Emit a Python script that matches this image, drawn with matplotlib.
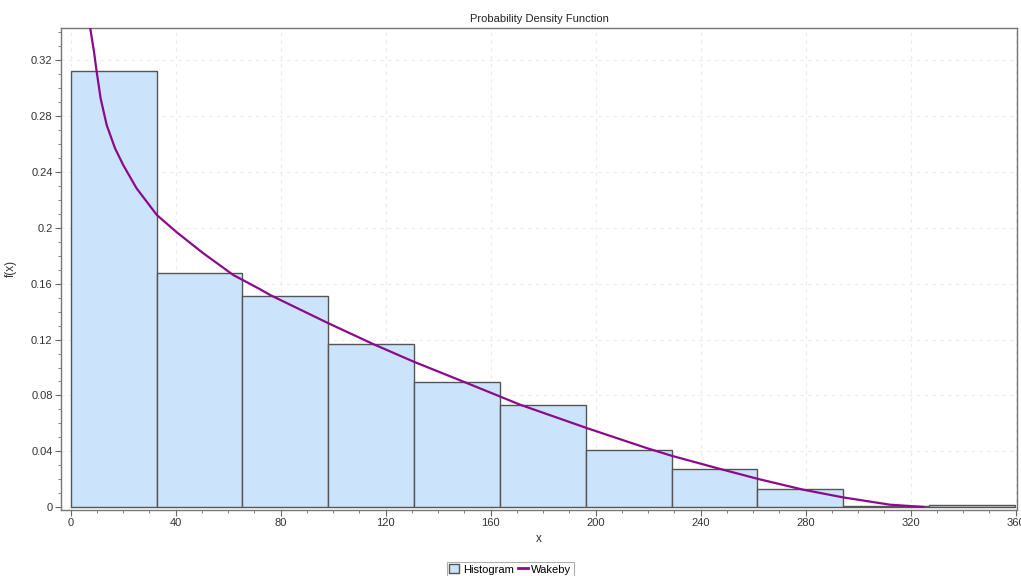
import numpy as np
import matplotlib
matplotlib.use('Agg')
import matplotlib.pyplot as plt
from matplotlib.patches import Patch
from matplotlib.lines import Line2D
from matplotlib.ticker import MultipleLocator, FuncFormatter

plt.rcParams['font.family'] = ['Liberation Sans', 'DejaVu Sans']

# Histogram bins (left edges) and heights
bin_width = 32.7
bin_lefts = [0.0, 32.7, 65.4, 98.1, 130.8, 163.5, 196.2, 228.9, 261.6, 294.3, 327.0]
bin_heights = [0.312, 0.1679, 0.1514, 0.1169, 0.0898, 0.0734, 0.0412, 0.0271, 0.0131, 0.0010, 0.0019]

# Wakeby pdf, points
curve_x = [7.35, 8.88, 9.9, 11.4, 13.7, 16.9, 20.0, 25.1, 32.8, 37.2,
           40.4, 50.5, 61.9, 72.1, 75.9, 98.1, 115.3, 130.5, 150.9, 163.5, 171.2,
           196.6, 219.4, 228.9, 246.1, 261.9, 279.1, 294.3, 312.1, 324.8]
curve_y = [0.3436, 0.3257, 0.3114, 0.2924, 0.2734, 0.2567, 0.2448, 0.2281, 0.2091,
           0.2019, 0.1967, 0.1817, 0.1662, 0.156, 0.1519, 0.1317, 0.1167, 0.1043,
           0.0889, 0.0793, 0.0734, 0.0567, 0.0424, 0.0369, 0.0281, 0.0203, 0.0126,
           0.0071, 0.0019, 0.0003]

bar_color = '#cce4fb'
edge_color = '#555555'
line_color = '#8b0a8b'

fig = plt.figure(figsize=(10.21, 5.76), dpi=100)
ax = fig.add_axes([61 / 1021, 1 - 510 / 576, (1017 - 61) / 1021, (510 - 27.7) / 576])

ax.bar(bin_lefts, bin_heights, width=bin_width, align='edge',
       color=bar_color, edgecolor=edge_color, linewidth=1.0, zorder=2)
ax.plot(curve_x, curve_y, color=line_color, linewidth=1.6, zorder=3,
        solid_joinstyle='round')

ax.set_xlim(-3.7, 360.5)
ax.set_ylim(-0.0019, 0.343)

ax.xaxis.set_major_locator(MultipleLocator(40))
ax.xaxis.set_minor_locator(MultipleLocator(10))
ax.yaxis.set_major_locator(MultipleLocator(0.04))
ax.yaxis.set_minor_locator(MultipleLocator(0.01))
ax.yaxis.set_major_formatter(FuncFormatter(lambda v, p: ('%.2f' % v).rstrip('0').rstrip('.')))

ax.tick_params(which='major', length=4, color='#666666', labelsize=8, labelcolor='#333333', pad=2)
ax.tick_params(which='minor', length=2, color='#666666')

ax.grid(True, which='major', linestyle=(0, (3, 4)), color='#ebebeb', linewidth=0.8, zorder=0)
ax.set_axisbelow(True)

for side in ['top', 'right', 'left', 'bottom']:
  ax.spines[side].set_color('#777777')
  ax.spines[side].set_linewidth(1.0)

ax.set_title('Probability Density Function', fontsize=8, color='#222222', pad=4)
ax.set_xlabel('x', fontsize=8.5, color='#333333', labelpad=3)
ax.set_ylabel('f(x)', fontsize=8.5, color='#333333', labelpad=10)

handles = [Patch(facecolor=bar_color, edgecolor=edge_color, linewidth=1.0),
           Line2D([0], [0], color=line_color, linewidth=2)]
leg = fig.legend(handles, ['Histogram', 'Wakeby'], loc='upper center',
                 bbox_to_anchor=(0.5, 1 - 562 / 576), ncol=2, fontsize=8,
                 frameon=True, fancybox=False, edgecolor='#999999',
                 handlelength=0.9, handleheight=0.9, handletextpad=0.3,
                 columnspacing=0.4, borderpad=0.2, borderaxespad=0)
leg.get_frame().set_linewidth(0.8)

fig.savefig('out.png', dpi=100)
